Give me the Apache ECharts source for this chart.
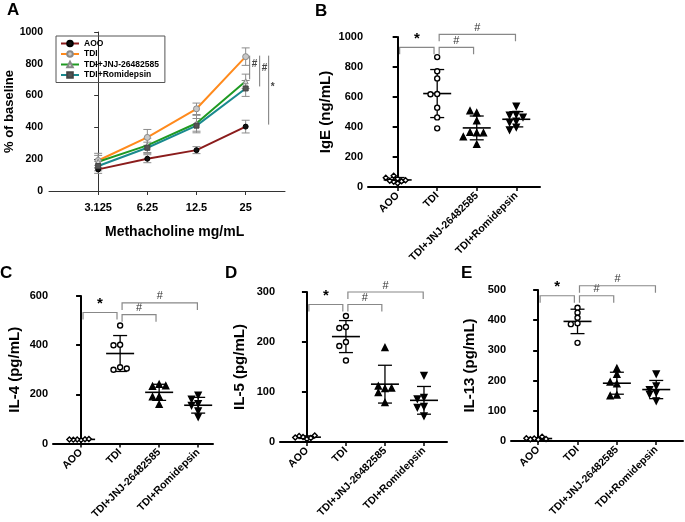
<!DOCTYPE html>
<html><head><meta charset="utf-8">
<script src="https://cdn.jsdelivr.net/npm/echarts@6/dist/echarts.min.js"></script>
<style>html,body{margin:0;padding:0;background:#fff}#c{width:685px;height:522px}</style>
</head><body><div id="c"></div>
<script>
// ---------- Panel A data ----------
const doses = ['3.125', '6.25', '12.5', '25'];
const aooMean = [136, 203, 257, 405];
const aooSD = [25, 25, 22, 40];
const tdiMean = [192, 337, 517, 845];
const tdiSD = [45, 50, 36, 55];
const jnjMean = [184, 287, 426, 690];
const jnjSD = [40, 45, 50, 45];
const romMean = [157, 272, 411, 645];
const romSD = [30, 35, 45, 50];

// ---------- Panels B-E data ----------
const groups = ['AOO', 'TDI', 'TDI+JNJ-26482585', 'TDI+Romidepsin'];
const igeAOO = [25, 35, 38, 42, 45, 55, 62, 75];
const igeTDI = [866, 772, 724, 620, 618, 529, 464, 391];
const igeJNJ = [495, 508, 442, 362, 364, 361, 335, 284];
const igeRom = [538, 484, 478, 466, 438, 430, 398, 380];

const il4AOO = [15, 17, 18, 16, 19, 17];
const il4TDI = [480, 402, 400, 310, 300, 305];
const il4JNJ = [241, 233, 235, 191, 190, 160];
const il4Rom = [197, 180, 162, 155, 133, 108];

const il5AOO = [6, 10, 8, 12, 13, 9];
const il5TDI = [252, 230, 228, 200, 192, 163];
const il5JNJ = [189, 107, 112, 108, 99, 79];
const il5Rom = [133, 89, 86, 71, 69, 52];

const il13AOO = [5, 8, 14, 6, 7, 9];
const il13TDI = [441, 425, 408, 390, 387, 325];
const il13JNJ = [241, 221, 189, 195, 152, 150];
const il13Rom = [222, 182, 170, 160, 155, 133];

// significance brackets: [fromGroup, toGroup] and their levels per panel
const bracketPairs = [[0, 1], [1, 2], [1, 3]];
const bracketLabels = ['*', '#', '#'];
const igeLevels = [931, 931, 1018];
const il4Levels = [533, 524, 572];
const il5Levels = [275, 275, 300];
const il13Levels = [481, 481, 514];

const FONT = '"Liberation Sans", Arial, sans-serif';
const chart = echarts.init(document.getElementById('c'));

function mean(a) { return a.reduce((s, v) => s + v, 0) / a.length; }
function sd(a) { const m = mean(a); return Math.sqrt(a.reduce((s, v) => s + (v - m) * (v - m), 0) / (a.length - 1)); }
function swarm(vals, thr) {
  const placed = [];
  const ks = vals.map(v => {
    const used = new Set(placed.filter(p => Math.abs(p.v - v) < thr).map(p => p.k));
    const k = [0, -1, 1, -2, 2, -3, 3, -4, 4].find(s => !used.has(s));
    placed.push({ v, k });
    return k;
  });
  const maxK = Math.max(...ks.map(Math.abs));
  const step = maxK > 2 ? 0.1 : 0.17;
  return ks.map(k => k * step);
}

const grids = [
  { left: 49, top: 32, width: 236, height: 159 },
  { left: 368, top: 37, width: 172, height: 150 },
  { left: 53, top: 296, width: 160, height: 150 },
  { left: 280, top: 292, width: 167, height: 150 },
  { left: 511, top: 290, width: 172, height: 151 }
];

const xAxes = [], yAxes = [], series = [];

// ---- Panel A axes
xAxes.push({
  gridIndex: 0, type: 'value', min: -1, max: 3.8,
  axisLine: { lineStyle: { color: '#333', width: 1 } },
  axisTick: { customValues: [0, 1, 2, 3], length: 4, lineStyle: { color: '#333' } },
  axisLabel: { customValues: [0, 1, 2, 3], formatter: v => doses[Math.round(v)], color: '#000', fontFamily: FONT, fontWeight: 'bold', fontSize: 11, margin: 11 },
  splitLine: { show: false }
});
yAxes.push({
  gridIndex: 0, type: 'value', min: 0, max: 1000, interval: 200,
  name: '% of baseline', nameLocation: 'middle', nameGap: 28, nameRotate: 90,
  nameTextStyle: { fontFamily: FONT, fontWeight: 'bold', fontSize: 13, color: '#000' },
  axisLine: { show: true, lineStyle: { color: '#333', width: 1 } },
  axisTick: { show: true, length: 4, lineStyle: { color: '#333' } },
  axisLabel: { formatter: v => String(v), color: '#000', fontFamily: FONT, fontWeight: 'bold', fontSize: 10.5, margin: 6 },
  splitLine: { show: false }
});

const aSeries = [
  { name: 'AOO', m: aooMean, s: aooSD, color: '#8b1c1c', symbol: 'circle', size: 5, fill: '#111', border: '#000' },
  { name: 'TDI', m: tdiMean, s: tdiSD, color: '#ff8a1c', symbol: 'circle', size: 6, fill: '#c8c8c8', border: '#8a8a8a' },
  { name: 'TDI+JNJ-26482585', m: jnjMean, s: jnjSD, color: '#1f9a22', symbol: 'triangle', size: 5, fill: '#dcdcdc', border: '#888' },
  { name: 'TDI+Romidepsin', m: romMean, s: romSD, color: '#1a8a8e', symbol: 'rect', size: 5, fill: '#555', border: '#444' }
];
aSeries.forEach((g) => {
  series.push({
    type: 'custom', xAxisIndex: 0, yAxisIndex: 0, z: 3, silent: true,
    data: g.m.map((v, i) => [i, v, g.s[i]]),
    renderItem: (p, api) => {
      const x = api.value(0), m = api.value(1), s = api.value(2);
      const t = api.coord([x, m + s]), b = api.coord([x, m - s]);
      const st = { stroke: '#8c8c8c', lineWidth: 1 };
      return { type: 'group', children: [
        { type: 'line', shape: { x1: t[0], y1: t[1], x2: b[0], y2: b[1] }, style: st },
        { type: 'line', shape: { x1: t[0] - 4, y1: t[1], x2: t[0] + 4, y2: t[1] }, style: st },
        { type: 'line', shape: { x1: b[0] - 4, y1: b[1], x2: b[0] + 4, y2: b[1] }, style: st }
      ] };
    }
  });
  series.push({
    type: 'line', name: g.name, xAxisIndex: 0, yAxisIndex: 0, z: 4,
    data: g.m.map((v, i) => [i, v]),
    symbol: g.symbol, symbolSize: g.size, showAllSymbol: true,
    lineStyle: { color: g.color, width: 2 },
    itemStyle: { color: g.fill, borderColor: g.border, borderWidth: 1 },
    emphasis: { disabled: true }, animation: false
  });
});
// vertical significance lines in A (TDI vs each group at last dose)
const aComp = [[jnjMean, '#', 4], [romMean, '#', 14], [aooMean, '*', 23]];
series.push({
  type: 'custom', xAxisIndex: 0, yAxisIndex: 0, z: 5, silent: true,
  data: aComp.map((c, i) => [3, tdiMean[3], c[0][3], i]),
  renderItem: (p, api) => {
    const i = api.value(3);
    const t = api.coord([api.value(0), api.value(1)]), b = api.coord([api.value(0), api.value(2)]);
    const x = t[0] + aComp[i][2];
    const y1 = t[1] - 1, y2 = b[1] - 2;
    return { type: 'group', children: [
      { type: 'line', shape: { x1: x, y1: y1, x2: x, y2: y2 }, style: { stroke: '#777', lineWidth: 1 } },
      { type: 'text', x: x + 2, y: (y1 + y2) / 2 - 3, style: { text: aComp[i][1], fill: '#444', font: 'bold 10px ' + FONT, textAlign: 'left', textVerticalAlign: 'middle' } }
    ] };
  }
});

// ---- Panels B-E
const panels = [
  { name: 'IgE (ng/mL)', data: [igeAOO, igeTDI, igeJNJ, igeRom], max: 1000, interval: 200, levels: igeLevels, min: -0.75, maxX: 3.6, gap: 35 },
  { name: 'IL-4 (pg/mL)', data: [il4AOO, il4TDI, il4JNJ, il4Rom], max: 600, interval: 200, levels: il4Levels, min: -0.72, maxX: 3.38, gap: 31 },
  { name: 'IL-5 (pg/mL)', data: [il5AOO, il5TDI, il5JNJ, il5Rom], max: 300, interval: 100, levels: il5Levels, min: -0.69, maxX: 3.59, gap: 33 },
  { name: 'IL-13 (pg/mL)', data: [il13AOO, il13TDI, il13JNJ, il13Rom], max: 500, interval: 100, levels: il13Levels, min: -0.69, maxX: 3.68, gap: 34 }
];
const markers = [
  { symbol: 'diamond', size: 5, fill: '#fff', rotate: 0 },
  { symbol: 'circle', size: 5, fill: '#fff', rotate: 0 },
  { symbol: 'triangle', size: 6, fill: '#000', rotate: 0 },
  { symbol: 'triangle', size: 6, fill: '#000', rotate: 180 }
];
panels.forEach((pn, k) => {
  const gi = k + 1;
  xAxes.push({
    gridIndex: gi, type: 'value', min: pn.min, max: pn.maxX,
    axisLine: { lineStyle: { color: '#000', width: 2 } },
    axisTick: { customValues: [0, 1, 2, 3], length: 4, lineStyle: { color: '#000', width: 1.5 } },
    axisLabel: { customValues: [0, 1, 2, 3], formatter: v => groups[Math.round(v)], rotate: 45, color: '#000', fontFamily: FONT, fontWeight: 'bold', fontSize: 10.5, margin: 7 },
    splitLine: { show: false }
  });
  yAxes.push({
    gridIndex: gi, type: 'value', min: 0, max: pn.max, interval: pn.interval,
    name: pn.name, nameLocation: 'middle', nameGap: pn.gap, nameRotate: 90,
    nameTextStyle: { fontFamily: FONT, fontWeight: 'bold', fontSize: 15, color: '#000' },
    axisLine: { show: true, lineStyle: { color: '#000', width: 2 } },
    axisTick: { show: true, length: 5, lineStyle: { color: '#000', width: 2 } },
    axisLabel: { formatter: v => String(v), color: '#000', fontFamily: FONT, fontWeight: 'bold', fontSize: 11, margin: 5 },
    splitLine: { show: false }
  });
  // mean +/- SD
  series.push({
    type: 'custom', xAxisIndex: gi, yAxisIndex: gi, z: 2, silent: true,
    data: pn.data.map((a, i) => [i, mean(a), sd(a)]),
    renderItem: (p, api) => {
      const x = api.value(0), m = api.value(1), s = api.value(2);
      const c = api.coord([x, m]), t = api.coord([x, m + s]), b = api.coord([x, m - s]);
      const st = { stroke: '#000', lineWidth: 1.3 };
      return { type: 'group', children: [
        { type: 'line', shape: { x1: c[0] - 14, y1: c[1], x2: c[0] + 14, y2: c[1] }, style: { stroke: '#000', lineWidth: 1.6 } },
        { type: 'line', shape: { x1: t[0], y1: t[1], x2: b[0], y2: b[1] }, style: st },
        { type: 'line', shape: { x1: t[0] - 7, y1: t[1], x2: t[0] + 7, y2: t[1] }, style: st },
        { type: 'line', shape: { x1: b[0] - 7, y1: b[1], x2: b[0] + 7, y2: b[1] }, style: st }
      ] };
    }
  });
  // individual points
  pn.data.forEach((arr, i) => {
    const mk = markers[i];
    const off = swarm(arr, pn.max * 0.03);
    series.push({
      type: 'scatter', xAxisIndex: gi, yAxisIndex: gi, z: 3, silent: true,
      data: arr.map((v, j) => [i + off[j], v]),
      symbol: mk.symbol, symbolSize: mk.size, symbolRotate: mk.rotate,
      itemStyle: { color: mk.fill, borderColor: '#000', borderWidth: 1.4, opacity: 1 },
      animation: false
    });
  });
  // brackets
  series.push({
    type: 'custom', xAxisIndex: gi, yAxisIndex: gi, z: 4, silent: true, clip: false,
    data: bracketPairs.map((bp, i) => [bp[0], bp[1], pn.levels[i], i]),
    renderItem: (p, api) => {
      const i = api.value(3);
      const a = api.coord([api.value(0) + 0.05, api.value(2)]);
      const b = api.coord([api.value(1) - (i === 2 ? 0.02 : 0.08), api.value(2)]);
      const star = bracketLabels[i] === '*';
      return { type: 'group', children: [
        { type: 'polyline', shape: { points: [[a[0], a[1] + 7], [a[0], a[1]], [b[0], a[1]], [b[0], a[1] + 7]] }, style: { stroke: '#888', lineWidth: 1.2, fill: null } },
        { type: 'text', x: (a[0] + b[0]) / 2, y: a[1] - 1, style: { text: bracketLabels[i], fill: star ? '#000' : '#333', font: (star ? 'bold 15px ' : '11px ') + FONT, textAlign: 'center', textVerticalAlign: 'bottom' } }
      ] };
    }
  });
});

chart.setOption({
  animation: false,
  backgroundColor: '#fff',
  grid: grids,
  xAxis: xAxes,
  yAxis: yAxes,
  legend: {
    data: aSeries.map(g => g.name), orient: 'vertical', left: 56, top: 36,
    itemWidth: 18, itemHeight: 7, itemGap: 1.5, padding: [3, 6, 3, 4],
    borderColor: '#555', borderWidth: 1, selectedMode: false,
    textStyle: { fontFamily: FONT, fontWeight: 'bold', fontSize: 8.5, color: '#000', lineHeight: 9 }
  },
  graphic: [
    { type: 'text', left: 7, top: 2, style: { text: 'A', font: 'bold 17px ' + FONT, fill: '#000' } },
    { type: 'text', left: 315, top: 3, style: { text: 'B', font: 'bold 17px ' + FONT, fill: '#000' } },
    { type: 'text', left: 0, top: 265, style: { text: 'C', font: 'bold 17px ' + FONT, fill: '#000' } },
    { type: 'text', left: 225, top: 265, style: { text: 'D', font: 'bold 17px ' + FONT, fill: '#000' } },
    { type: 'text', left: 461, top: 265, style: { text: 'E', font: 'bold 17px ' + FONT, fill: '#000' } },
    { type: 'text', left: 105, top: 225, style: { text: 'Methacholine mg/mL', font: 'bold 14px ' + FONT, fill: '#000' } }
  ],
  series: series
});
</script></body></html>
